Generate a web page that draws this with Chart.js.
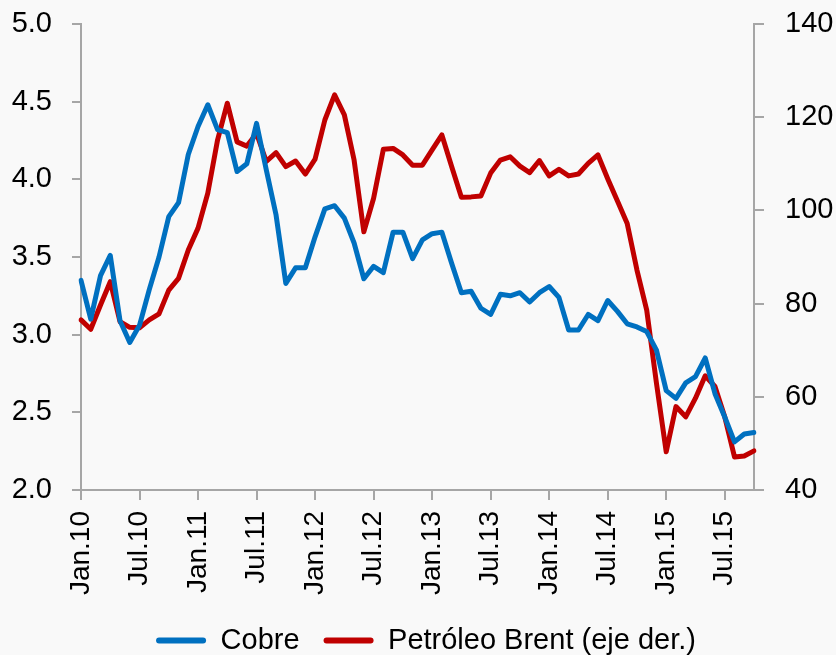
<!DOCTYPE html>
<html>
<head>
<meta charset="utf-8">
<script src="https://cdn.jsdelivr.net/npm/chart.js@4.4.1/dist/chart.umd.min.js"></script>
<style>
  html, body { margin: 0; padding: 0; background: #f9f9f9; }
  #wrap { width: 836px; height: 655px; }
</style>
</head>
<body>
<div id="wrap"><canvas id="c" width="836" height="655"></canvas></div>
<script>
const categories = [
  'Jan.10','Feb.10','Mar.10','Apr.10','May.10','Jun.10','Jul.10','Aug.10','Sep.10','Oct.10','Nov.10','Dec.10',
  'Jan.11','Feb.11','Mar.11','Apr.11','May.11','Jun.11','Jul.11','Aug.11','Sep.11','Oct.11','Nov.11','Dec.11',
  'Jan.12','Feb.12','Mar.12','Apr.12','May.12','Jun.12','Jul.12','Aug.12','Sep.12','Oct.12','Nov.12','Dec.12',
  'Jan.13','Feb.13','Mar.13','Apr.13','May.13','Jun.13','Jul.13','Aug.13','Sep.13','Oct.13','Nov.13','Dec.13',
  'Jan.14','Feb.14','Mar.14','Apr.14','May.14','Jun.14','Jul.14','Aug.14','Sep.14','Oct.14','Nov.14','Dec.14',
  'Jan.15','Feb.15','Mar.15','Apr.15','May.15','Jun.15','Jul.15','Aug.15','Sep.15','Oct.15'
];
const shownLabels = ['Jan.10','Jul.10','Jan.11','Jul.11','Jan.12','Jul.12','Jan.13','Jul.13','Jan.14','Jul.14','Jan.15','Jul.15'];

const cobre = [
  3.35, 3.10, 3.38, 3.51, 3.09, 2.95, 3.06, 3.29, 3.50, 3.76, 3.85, 4.16,
  4.34, 4.48, 4.32, 4.30, 4.05, 4.10, 4.36, 4.06, 3.77, 3.33, 3.43, 3.43,
  3.63, 3.81, 3.83, 3.75, 3.59, 3.36, 3.44, 3.40, 3.66, 3.66, 3.49, 3.61,
  3.65, 3.66, 3.46, 3.27, 3.28, 3.17, 3.13, 3.26, 3.25, 3.27, 3.21, 3.27,
  3.31, 3.24, 3.03, 3.03, 3.13, 3.09, 3.22, 3.15, 3.07, 3.05, 3.02, 2.90,
  2.64, 2.59, 2.69, 2.73, 2.85, 2.62, 2.47, 2.31, 2.36, 2.37
];
const brent = [
  76.5, 74.5, 79.7, 84.7, 76.1, 74.9, 74.8, 76.5, 77.8, 82.9, 85.4, 91.5,
  96.2, 103.7, 115.1, 123.0, 114.7, 113.8, 116.5, 110.5, 112.4, 109.4, 110.6, 107.8,
  111.0, 119.4, 124.8, 120.5, 110.8, 95.4, 102.6, 113.1, 113.3, 111.9, 109.7, 109.7,
  113.0, 116.2, 109.4, 102.8, 102.9, 103.1, 108.0, 110.8, 111.5, 109.5, 108.1, 110.7,
  107.4, 108.8, 107.4, 107.8, 110.1, 111.9, 106.8, 102.0, 97.2, 87.2, 78.6, 62.9,
  48.2, 57.9, 55.7, 59.7, 64.5, 62.2, 55.7, 47.1, 47.3, 48.4
];

const leftTicks = [2.0, 2.5, 3.0, 3.5, 4.0, 4.5, 5.0];
const rightTicks = [40, 60, 80, 100, 120, 140];

const FONT = '"Liberation Sans", Arial, sans-serif';
const AXIS = '#a6a6a6';

const bgPlugin = {
  id: 'bg',
  beforeDraw(chart) {
    const ctx = chart.ctx;
    ctx.save();
    ctx.fillStyle = '#f9f9f9';
    ctx.fillRect(0, 0, chart.width, chart.height);
    ctx.restore();
  }
};

// shift legend block slightly right, as in the reference
const legendShift = {
  id: 'legendShift',
  afterLayout(chart) {
    if (chart.legend) chart.legend.left += 16;
  }
};

new Chart(document.getElementById('c'), {
  type: 'line',
  data: {
    labels: categories,
    datasets: [
      {
        label: 'Cobre',
        data: cobre,
        yAxisID: 'y',
        borderColor: '#0070c0',
        backgroundColor: '#0070c0',
        borderWidth: 5,
        pointRadius: 0,
        tension: 0,
        borderJoinStyle: 'round',
        borderCapStyle: 'round'
      },
      {
        label: 'Petróleo Brent (eje der.)',
        data: brent,
        yAxisID: 'y2',
        borderColor: '#c00000',
        backgroundColor: '#c00000',
        borderWidth: 5,
        pointRadius: 0,
        tension: 0,
        borderJoinStyle: 'round',
        borderCapStyle: 'round'
      }
    ]
  },
  options: {
    responsive: false,
    animation: false,
    devicePixelRatio: 1,
    layout: { padding: { left: 0, right: 0, top: 24, bottom: -10 } },
    plugins: {
      legend: {
        position: 'bottom',
        align: 'center',
        labels: {
          font: { family: FONT, size: 29 },
          color: '#000',
          boxWidth: 50,
          boxHeight: 6,
          padding: 24,
          useBorderRadius: true,
          borderRadius: 3,
          generateLabels(chart) {
            return Chart.defaults.plugins.legend.labels.generateLabels(chart)
              .map(item => Object.assign(item, { lineWidth: 0 }));
          }
        }
      },
      tooltip: { enabled: false }
    },
    scales: {
      x: {
        type: 'category',
        offset: false,
        afterFit(scale) { scale.height = 112; },
        grid: {
          drawOnChartArea: false,
          drawTicks: true,
          tickLength: 10,
          lineWidth: 2,
          color: (ctx) => (shownLabels.includes(categories[ctx.index]) ? AXIS : 'rgba(0,0,0,0)')
        },
        border: { display: true, color: AXIS, width: 2 },
        ticks: {
          autoSkip: false,
          maxRotation: 90,
          minRotation: 90,
          padding: 11,
          color: '#000',
          font: { family: FONT, size: 28 },
          callback: function (value, index) {
            const l = categories[index];
            return shownLabels.includes(l) ? l : '';
          }
        }
      },
      y: {
        position: 'left',
        min: 2,
        max: 5,
        afterFit(scale) { scale.width = 81; scale.paddingTop = 0; scale.paddingBottom = 0; },
        afterBuildTicks(scale) { scale.ticks = leftTicks.map(v => ({ value: v })); },
        grid: { drawOnChartArea: false, drawTicks: true, tickLength: 9, lineWidth: 2, color: AXIS },
        border: { display: true, color: AXIS, width: 2 },
        ticks: {
          padding: 20,
          color: '#000',
          font: { family: FONT, size: 29 },
          callback: (v) => Number(v).toFixed(1)
        }
      },
      y2: {
        position: 'right',
        min: 40,
        max: 140,
        afterFit(scale) { scale.width = 82; scale.paddingTop = 0; scale.paddingBottom = 0; },
        afterBuildTicks(scale) { scale.ticks = rightTicks.map(v => ({ value: v })); },
        grid: { drawOnChartArea: false, drawTicks: true, tickLength: 10, lineWidth: 2, color: AXIS },
        border: { display: true, color: AXIS, width: 2 },
        ticks: {
          padding: 21,
          color: '#000',
          font: { family: FONT, size: 29 },
          callback: (v) => String(v)
        }
      }
    }
  },
  plugins: [bgPlugin, legendShift]
});
</script>
</body>
</html>
